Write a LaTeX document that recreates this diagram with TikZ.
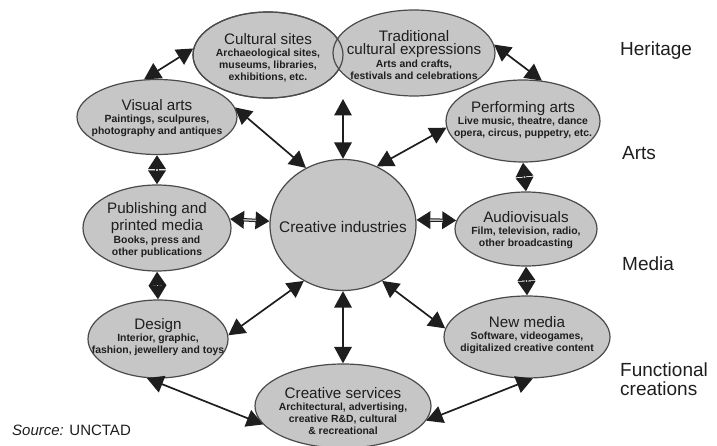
\documentclass[tikz,border=0pt]{standalone}
\usepackage{fontspec}
\setmainfont{Liberation Sans}
\usetikzlibrary{shapes.geometric,arrows.meta}
\definecolor{ellfill}{HTML}{C6C6C6}
\definecolor{ellline}{HTML}{4A4A4A}
\definecolor{ink}{HTML}{1E1E1E}
\definecolor{shaft}{HTML}{BDBDBD}
\newcommand\myttlf{\fontsize{15.2}{12.5}\selectfont\mdseries}
\newcommand\mysubf{\fontsize{10.4}{12.5}\selectfont\bfseries}
\begin{document}
\begin{tikzpicture}[x=1pt,y=-1pt,
  ell/.style={ellipse,draw=ellline,line width=1.2pt,fill=ellfill,inner sep=0pt},
  etext/.style={align=center,text=ink,inner sep=0pt},
  longarr/.style={draw=ink,line width=1.7pt,{Triangle[length=16.5pt,width=17.5pt]}-{Triangle[length=16.5pt,width=17.5pt]}},
  shortarr/.style={draw=ink,line width=3.4pt,{Triangle[length=14pt,width=17pt]}-{Triangle[length=14pt,width=17pt]}},
  shortin/.style={draw=shaft,line width=1.4pt,shorten <=13.5pt,shorten >=13.5pt},
  side/.style={text=ink,font=\fontsize{19}{19}\selectfont,anchor=base west,inner sep=0pt,align=left}
]
\useasboundingbox (0,0) rectangle (717,446);

% ellipses
\node[ell,minimum width=150pt,minimum height=86pt] (cs) at (268,55) {};
\node[ell,minimum width=162pt,minimum height=86pt] (tce) at (414,53) {};
\draw[ellline,line width=1.2pt] (cs.center) ellipse [x radius=75pt,y radius=43pt];
\node[ell,minimum width=160pt,minimum height=75pt] (va) at (157,117) {};
\node[ell,minimum width=154pt,minimum height=82pt] (pa) at (523,121) {};
\node[ell,minimum width=148pt,minimum height=86pt] (pub) at (157,228) {};
\node[ell,minimum width=142pt,minimum height=74pt] (av) at (526,229) {};
\node[ell,minimum width=140pt,minimum height=78pt] (des) at (158,339) {};
\node[ell,minimum width=166pt,minimum height=82pt] (nm) at (527,337) {};
\node[ell,minimum width=176pt,minimum height=84pt] (csv) at (343,406) {};
\node[ell,minimum width=146pt,minimum height=131pt] (ci) at (343,225) {};
\coordinate (top) at (343,99);

% texts
\node[etext] (cst) at (268,58) {\myttlf Cultural sites\\[0.5pt]\mysubf Archaeological sites,\\\mysubf museums, libraries,\\\mysubf exhibitions, etc.};
\node[etext] (tcet) at (414,55) {\myttlf Traditional\\[1.5pt]\myttlf cultural expressions\\[1pt]\mysubf Arts and crafts,\\\mysubf festivals and celebrations};
\node[etext] (vat) at (157,118) {\myttlf Visual arts\\[0.5pt]\mysubf Paintings, sculpures,\\\mysubf photography and antiques};
\node[etext] (pat) at (523,120) {\myttlf Performing arts\\[0.5pt]\mysubf Live music, theatre, dance\\\mysubf opera, circus, puppetry, etc.};
\node[etext] (pubt) at (157,230) {\myttlf Publishing and\\[1.5pt]\myttlf printed media\\[1pt]\mysubf Books, press and\\\mysubf other publications};
\node[etext] (avt) at (526,230) {\myttlf Audiovisuals\\[0.5pt]\mysubf Film, television, radio,\\\mysubf other broadcasting};
\node[etext] (dest) at (158,337) {\myttlf Design\\[0.5pt]\mysubf Interior, graphic,\\\mysubf fashion, jewellery and toys};
\node[etext] (nmt) at (527,335) {\myttlf New media\\[0.5pt]\mysubf Software, videogames,\\\mysubf digitalized creative content};
\node[etext] (csvt) at (343,411) {\myttlf Creative services\\[0.5pt]\mysubf Architectural, advertising,\\\mysubf creative R\&D, cultural\\\mysubf \& recreational};
\node[etext,font=\fontsize{15.4}{14}\selectfont] (cit) at (343,227) {Creative industries};

% long arrows
\draw[longarr] (va.109) -- (cs.175);
\draw[longarr] (tce.6) -- (pa.65);
\draw[longarr] (va.7) -- (ci.123);
\draw[longarr] (pa.185) -- (ci.60);
\draw[longarr] (des.3) -- (ci.235);
\draw[longarr] (nm.174) -- (ci.-55);
\draw[longarr] (ci.north) -- (top);
\draw[longarr] (ci.south) -- (csv.north);
\draw[longarr] (des.254) -- (csv.193);
\draw[longarr] (nm.278) -- (csv.350);

% short arrows
\draw[shortarr] (pub.7) -- (ci.177);
\draw[shortin] (pub.7) -- (ci.177);
\draw[shortarr] (av.173) -- (ci.4);
\draw[shortin] (av.173) -- (ci.4);
\draw[shortarr] (va.south) -- (pub.north);
\draw[shortin] (va.south) -- (pub.north);
\draw[shortarr] (pub.south) -- (des.north);
\draw[shortin] (pub.south) -- (des.north);
\draw[shortarr] (pa.south) -- (av.north);
\draw[shortin] (pa.south) -- (av.north);
\draw[shortarr] (av.south) -- (nm.north);
\draw[shortin] (av.south) -- (nm.north);

% side labels
\node[side] (her) at (620,56) {Heritage};
\node[side] (art) at (622,160) {Arts};
\node[side] (med) at (622,271) {Media};
\node[side] (fun) at (620,395) {Functional\\creations};
\node[text=ink,font=\fontsize{15}{15}\selectfont,anchor=base west,inner sep=0pt] (src) at (12,435) {\textit{Source:} UNCTAD};
\end{tikzpicture}
\end{document}
